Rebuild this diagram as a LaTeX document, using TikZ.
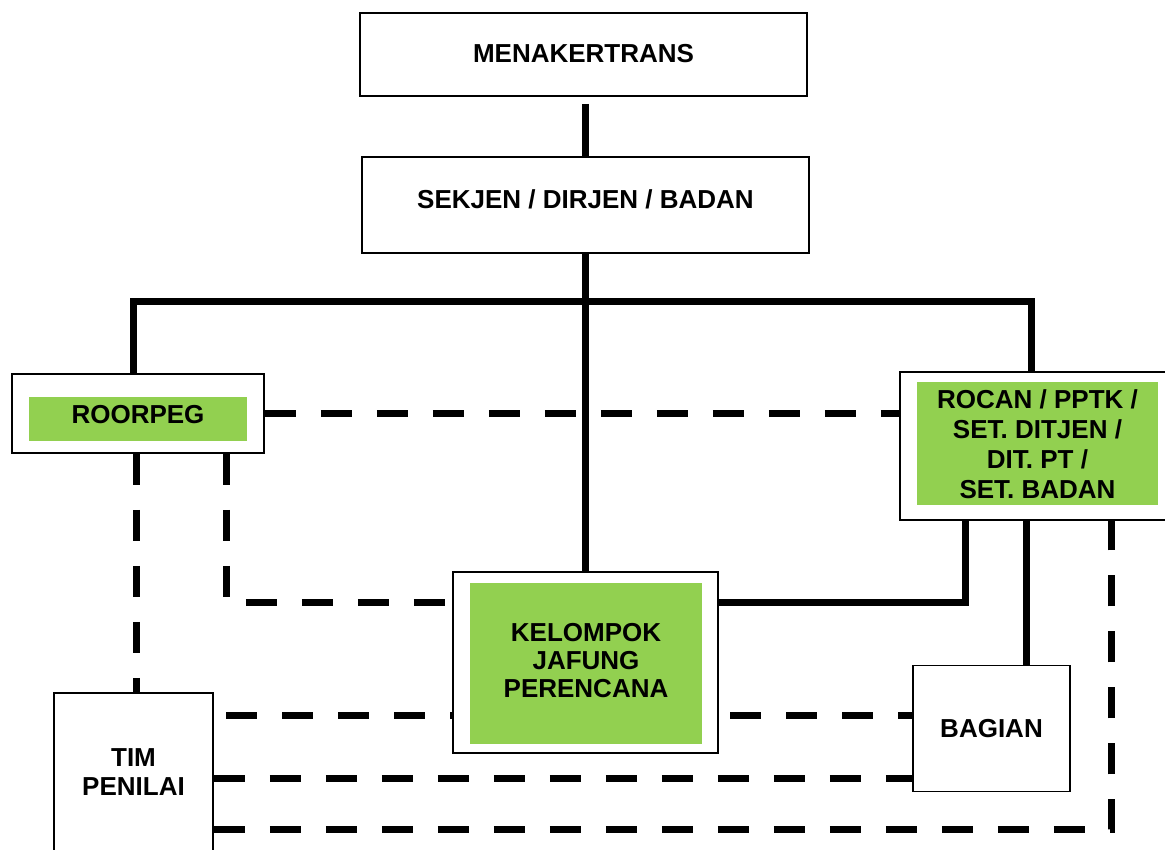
\documentclass[tikz,border=0pt]{standalone}
\usepackage{fontspec}
\setmainfont{Liberation Sans}
\usetikzlibrary{backgrounds}
\definecolor{gr}{HTML}{92D050}
\begin{document}
\begin{tikzpicture}[x=1pt,y=-1pt,
  box/.style={draw=black,line width=1.5pt,fill=white,rectangle,inner sep=0pt},
  greenbox/.style={fill=gr,rectangle,inner sep=0pt},
  txt/.style={inner sep=0pt,font=\fontsize{26}{29}\selectfont\bfseries,align=center},
  conn/.style={line width=7pt},
  dconn/.style={line width=7pt,dash pattern=on 31pt off 25pt}]
\useasboundingbox (0,0) rectangle (1165,850);
\node[box,minimum width=447pt,minimum height=83pt] (men) at (583.5,54.5) {};
\node[txt] (ment) at (583.5,54) {MENAKERTRANS};
\node[box,minimum width=447pt,minimum height=96pt] (sek) at (585.5,205) {};
\node[txt] (sekt) at (585.5,199) {SEKJEN / DIRJEN / BADAN};
\node[box,minimum width=252pt,minimum height=79pt] (roor) at (138,413.5) {};
\node[greenbox,minimum width=218pt,minimum height=44pt] (roorg) at (138,419) {};
\node[txt] (roort) at (138,415) {ROORPEG};
\node[box,minimum width=275pt,minimum height=148pt] (rocan) at (1037.5,446) {};
\node[greenbox,minimum width=241pt,minimum height=123pt] (rocang) at (1037.5,443.5) {};
\node[txt,font=\fontsize{26}{30}\selectfont\bfseries] (rocant) at (1037.5,444) {ROCAN / PPTK /\\SET. DITJEN /\\DIT. PT /\\SET. BADAN};
\node[box,minimum width=265pt,minimum height=181pt] (kel) at (585.5,662.5) {};
\node[greenbox,minimum width=232pt,minimum height=161pt] (kelg) at (586,663) {};
\node[txt,font=\fontsize{26}{28}\selectfont\bfseries] (kelt) at (586,661) {KELOMPOK\\JAFUNG\\PERENCANA};
\node[box,minimum width=157pt,minimum height=126pt] (bag) at (991.5,728.5) {};
\node[txt] (bagt) at (991.5,729) {BAGIAN};
\node[box,minimum width=159pt,minimum height=177pt] (tim) at (133.5,781.5) {};
\node[txt] (timt) at (133.5,772.5) {TIM\\PENILAI};
\coordinate (bl) at (133,302);
\coordinate (br) at (1031,302);
\coordinate (xa) at (136,0);
\coordinate (xb) at (226,0);
\coordinate (xc) at (965,0);
\coordinate (xd) at (1026,0);
\coordinate (xe) at (1111,0);
\coordinate (y0) at (0,104);
\coordinate (y1) at (0,413.5);
\coordinate (y2) at (0,602);
\coordinate (y3) at (0,715);
\coordinate (y4) at (0,778);
\coordinate (y5) at (0,829);
\begin{pgfonlayer}{background}
\draw[conn] (sek.north |- y0) -- (sek.north);
\draw[conn] (sek.south) -- (kel.north);
\draw[conn] (bl |- roor.north) -- (bl) -- (br) -- (br |- rocan.north);
\draw[dconn] (roor.east |- y1) -- (rocan.west |- y1);
\draw[dconn] (xa |- roor.south) -- (xa |- tim.north);
\draw[dconn] (xb |- roor.south) -- (xb |- y2) -- (kel.west |- y2);
\draw[conn] (kel.east |- y2) -| (xc |- rocan.south);
\draw[conn] (xd |- rocan.south) -- (xd |- bag.north);
\draw[dconn] (xb |- y3) -- (bag.west |- y3);
\draw[dconn] (tim.east |- y4) -- (bag.west |- y4);
\draw[dconn] (tim.east |- y5) -- (xe |- y5) -- (xe |- rocan.south);
\end{pgfonlayer}
\end{tikzpicture}
\end{document}
